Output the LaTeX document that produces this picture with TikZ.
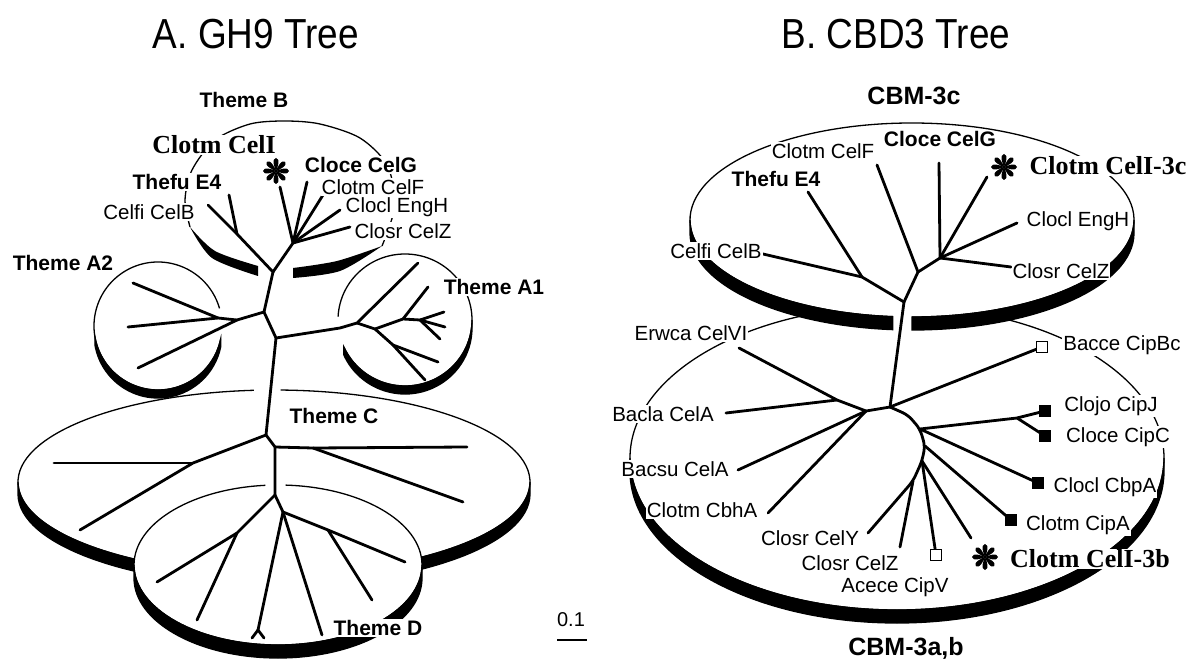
\documentclass[tikz,border=0pt]{standalone}
\usepackage{fontspec}
\setmainfont{Liberation Sans}
\newfontfamily\timesfont{Liberation Serif}

\begin{document}
\begin{tikzpicture}[x=1pt, y=-1pt,
    branch/.style={line width=2.8pt, line cap=round, line join=round},
    rim/.style={line width=1.3pt},
    taxon/.style={font=\fontsize{20.5}{22}\selectfont, fill=white, inner sep=1pt},
    taxonbf/.style={taxon, font=\fontsize{21}{22}\selectfont\bfseries},
    cbm/.style={font=\fontsize{25}{26}\selectfont\bfseries},
    focus/.style={taxon, font=\timesfont\fontsize{26}{28}\selectfont\bfseries},
    title/.style={font=\fontsize{42}{46}\selectfont, xscale=0.88, transform shape},
    sqfull/.style={fill=black, minimum size=12pt, inner sep=0pt},
    sqopen/.style={draw, fill=white, line width=1pt, minimum size=11pt, inner sep=0pt},
    aster/.pic={\foreach \a in {0,45,...,315}
      \fill[rotate=\a] (0,0) .. controls (1.5,-1.2) and (13,-4.8) .. (13,0) .. controls (13,4.8) and (1.5,1.2) .. (0,0);}]
  \useasboundingbox (0,0) rectangle (1191,660);

  %% titles
  \node[title] (titleA) at (256,34) {A. GH9 Tree};
  \node[title] (titleB) at (896,34) {B. CBD3 Tree};

  %%%%%%%%%%%%%%%% A. GH9 tree
  %% Theme B disc
  \draw[rim] plot[smooth] coordinates {(382,246) (395,205) (387,165) (360,138) (320,124) (285,121) (250,124) (215,140) (192,170) (185,200) (190,227)};
  \fill plot[smooth] coordinates {(293,268) (337,261) (382,246)} -- plot[smooth] coordinates {(382,246) (340,271) (293,278)} -- cycle;
  \fill plot[smooth] coordinates {(258,266) (215,251) (190,227)} -- plot[smooth] coordinates {(190,227) (212,258) (258,276)} -- cycle;
  %% Theme A2 disc
  \draw[rim] (158,326) ++(12:64 and 64) arc[start angle=12, end angle=344, x radius=64, y radius=64];
  \filldraw[rim] (158,326) ++(12:64 and 64) arc[start angle=12, end angle=170, x radius=64, y radius=64]
    -- ++(0,8) arc[start angle=170, end angle=12, x radius=64, y radius=64] -- cycle;
  %% Theme A1 disc
  \draw[rim] (405,320) ++(183:67 and 66) arc[start angle=183, end angle=516, x radius=67, y radius=66];
  \filldraw[rim] (405,320) ++(0:67 and 66) arc[start angle=0, end angle=156, x radius=67, y radius=66]
    -- ++(0,8) arc[start angle=156, end angle=0, x radius=67, y radius=66] -- cycle;
  %% Theme C disc
  \draw[rim] (274,482) ++(-88.5:256 and 92) arc[start angle=-88.5, end angle=265.5, x radius=256, y radius=92];
  \filldraw[rim] (274,482) ++(0:256 and 92) arc[start angle=0, end angle=180, x radius=256, y radius=92]
    -- ++(0,12) arc[start angle=180, end angle=0, x radius=256, y radius=92] -- cycle;
  %% Theme D disc (in front of C)
  \fill[white] (278,565) ellipse[x radius=144, y radius=80];
  \fill[white] (278,578) ellipse[x radius=144, y radius=80];
  \draw[rim] (278,565) ++(-87:144 and 80) arc[start angle=-87, end angle=265, x radius=144, y radius=80];
  \filldraw[rim] (278,565) ++(0:144 and 80) arc[start angle=0, end angle=180, x radius=144, y radius=80]
    -- ++(0,13) arc[start angle=180, end angle=0, x radius=144, y radius=80] -- cycle;

  %% tree nodes
  \coordinate (Bn) at (273,272);   \coordinate (BL1) at (237,234);
  \coordinate (celfiA) at (208,205); \coordinate (thefuA) at (229,195);
  \coordinate (B2) at (293,243);   \coordinate (celiA) at (280,187);
  \coordinate (celgA) at (307,182); \coordinate (celfA) at (323,195);
  \coordinate (enghA) at (340,210); \coordinate (celzA) at (350,227);
  \coordinate (S1) at (264,312);   \coordinate (S2) at (276,338);
  \coordinate (A2n) at (237,320);  \coordinate (a2i) at (218,318);
  \coordinate (a2e1) at (133,283); \coordinate (a2e2) at (128,327); \coordinate (a2e3) at (138,368);
  \coordinate (A1k) at (340,328);  \coordinate (A1n) at (357,323);
  \coordinate (a1e1) at (418,263); \coordinate (A1b) at (375,329);
  \coordinate (A1c) at (403,319);  \coordinate (a1e2) at (428,287);
  \coordinate (A1d) at (420,320);  \coordinate (a1e3) at (444,312);
  \coordinate (a1e4) at (445,327); \coordinate (a1e5) at (440,339);
  \coordinate (A1e) at (393,345);  \coordinate (a1e6) at (438,362); \coordinate (a1e7) at (425,380);
  \coordinate (Cn) at (266,435);   \coordinate (Cn2) at (275,447);
  \coordinate (Cl) at (193,463);   \coordinate (c1) at (80,530);  \coordinate (c2) at (54,463);
  \coordinate (Cr) at (313,448);   \coordinate (c3) at (467,447); \coordinate (c4) at (463,502);
  \coordinate (Dn) at (275,495);   \coordinate (Dl) at (237,533);
  \coordinate (d1) at (157,582);   \coordinate (d2) at (197,620);
  \coordinate (Dm) at (283,512);   \coordinate (Dy) at (258,630);
  \coordinate (dy1) at (252,638);  \coordinate (dy2) at (264,638);
  \coordinate (d3) at (322,635);   \coordinate (Dr) at (328,530);
  \coordinate (d4) at (405,562);   \coordinate (d5) at (372,600);

  %% branches
  \draw[branch] (celfiA) -- (BL1) -- (Bn) -- (S1) -- (S2) -- (Cn) -- (Cn2) -- (Dn);
  \draw[branch] (BL1) -- (thefuA);
  \draw[branch] (Bn) -- (B2) -- (celiA);
  \foreach \e in {celgA,celfA,enghA,celzA} \draw[branch] (B2) -- (\e);
  \draw[branch] (S1) -- (A2n) -- (a2i) -- (a2e2);
  \draw[branch] (a2i) -- (a2e1);
  \draw[branch] (A2n) -- (a2e3);
  \draw[branch] (S2) -- (A1k) -- (A1n) -- (a1e1);
  \draw[branch] (A1n) -- (A1b) -- (A1c) -- (A1d);
  \draw[branch] (A1c) -- (a1e2);
  \foreach \e in {a1e3,a1e4,a1e5} \draw[branch] (A1d) -- (\e);
  \draw[branch] (A1b) -- (A1e) -- (a1e7);
  \draw[branch] (A1e) -- (a1e6);
  \draw[branch] (Cn) -- (Cl) -- (c1);
  \draw[branch] (Cl) -- (c2);
  \draw[branch] (Cn2) -- (Cr) -- (c3);
  \draw[branch] (Cr) -- (c4);
  \draw[branch] (Dn) -- (Dl) -- (d1);
  \draw[branch] (Dl) -- (d2);
  \draw[branch] (Dn) -- (Dm) -- (Dy);
  \draw[branch] (dy1) -- (Dy) -- (dy2);
  \draw[branch] (Dm) -- (d3);
  \draw[branch] (Dm) -- (Dr) -- (d4);
  \draw[branch] (Dr) -- (d5);

  %% labels
  \node[taxonbf, fill=none] (themeB) at (244,100) {Theme B};
  \node[focus] (celiLab) at (214,145) {Clotm CelI};
  \pic (starA) at (276,171) {aster};
  \node[taxonbf] (thefuLab) at (177,182) {Thefu E4};
  \node[taxon] (celfiLab) at (149,212) {Celfi CelB};
  \node[taxonbf] (celgLab) at (361,165) {Cloce CelG};
  \node[taxon] (celfLab) at (373,187) {Clotm CelF};
  \node[taxon] (enghLab) at (397,207) {Clocl EngH};
  \node[taxon] (celzLab) at (403,231) {Closr CelZ};
  \node[taxonbf, fill=none] (themeA2) at (63,263) {Theme A2};
  \node[taxonbf] (themeA1) at (494,287) {Theme A1};
  \node[taxonbf] (themeC) at (334,416) {Theme C};
  \node[taxonbf] (themeD) at (378,628) {Theme D};

  %% scale bar
  \node[font=\fontsize{20}{22}\selectfont, inner sep=1pt] (scaleLab) at (571,620) {0.1};
  \coordinate (barL) at (557,640); \coordinate (barR) at (587,640);
  \draw[line width=2pt] (barL) -- (barR);

  %%%%%%%%%%%%%%%% B. CBD3 tree
  %% CBM-3a,b disc
  \draw[rim] (897,458) ellipse[x radius=267, y radius=152];
  \filldraw[rim] (897,458) ++(0:267 and 152) arc[start angle=0, end angle=180, x radius=267, y radius=152]
    -- ++(0,13) arc[start angle=180, end angle=0, x radius=267, y radius=152] -- cycle;
  %% CBM-3c disc (in front)
  \fill[white] (912,220) ellipse[x radius=222, y radius=97];
  \fill[white] (912,233) ellipse[x radius=222, y radius=97];
  \draw[rim] (912,220) ++(95:222 and 97) arc[start angle=95, end angle=450, x radius=222, y radius=97];
  \filldraw[rim] (912,220) ++(0:222 and 97) arc[start angle=0, end angle=90, x radius=222, y radius=97]
    -- ++(0,13) arc[start angle=90, end angle=0, x radius=222, y radius=97] -- cycle;
  \filldraw[rim] (912,220) ++(95:222 and 97) arc[start angle=95, end angle=180, x radius=222, y radius=97]
    -- ++(0,13) arc[start angle=180, end angle=95, x radius=222, y radius=97] -- cycle;

  %% tree nodes
  \coordinate (R1) at (904,302);   \coordinate (U1) at (862,277);
  \coordinate (celfiB) at (763,254); \coordinate (thefuB) at (808,192);
  \coordinate (U2) at (918,272);   \coordinate (celfB) at (877,165);
  \coordinate (U3) at (940,258);   \coordinate (celgB) at (939,163);
  \coordinate (celiB) at (987,177); \coordinate (enghB) at (1017,223); \coordinate (celzB) at (1011,267);
  \coordinate (H) at (890,407);    \coordinate (HL) at (866,411);  \coordinate (E1) at (837,400);
  \coordinate (erwcaB) at (739,348); \coordinate (baclaB) at (726,413);
  \coordinate (bacsuB) at (738,470); \coordinate (cbhaB) at (768,513);
  \coordinate (hA) at (908,415);   \coordinate (hB) at (920,429);
  \coordinate (hC) at (925,446);   \coordinate (hD) at (922,461);
  \coordinate (J) at (1017,418);   \coordinate (h5) at (913,481);
  \coordinate (celibB) at (971,538); \coordinate (celyB) at (868,533); \coordinate (celz2B) at (900,547);

  %% squares
  \node[sqopen] (bacceSq) at (1042,347) {};
  \node[sqfull] (clojoSq) at (1045,411) {};
  \node[sqfull] (cloceSq) at (1045,436) {};
  \node[sqfull] (cbpaSq) at (1038,483) {};
  \node[sqfull] (cipaSq) at (1011,520) {};
  \node[sqopen] (aceceSq) at (936,555) {};

  %% branches
  \draw[branch] (celfiB) -- (U1) -- (R1) -- (H);
  \draw[branch] (U1) -- (thefuB);
  \draw[branch] (R1) -- (U2) -- (celfB);
  \draw[branch] (U2) -- (U3) -- (celgB);
  \foreach \e in {celiB,enghB,celzB} \draw[branch] (U3) -- (\e);
  \draw[branch] (H) -- (HL) -- (E1) -- (erwcaB);
  \draw[branch] (E1) -- (baclaB);
  \draw[branch] (HL) -- (bacsuB);
  \draw[branch] (HL) -- (cbhaB);
  \draw[branch] (H) -- (bacceSq.center);
  \draw[branch, rounded corners=6pt] (H) -- (hA) -- (hB) -- (hC) -- (hD) -- (h5) -- (celyB);
  \draw[branch] (hB) -- (J) -- (clojoSq.center);
  \draw[branch] (J) -- (cloceSq.center);
  \draw[branch] (hB) -- (cbpaSq.center);
  \draw[branch] (hC) -- (cipaSq.center);
  \draw[branch] (hD) -- (celibB);
  \draw[branch] (hD) -- (aceceSq.center);
  \draw[branch] (h5) -- (celz2B);
  %% squares on top
  \node[sqopen] at (bacceSq) {};
  \node[sqopen] at (aceceSq) {};

  %% labels
  \node[cbm] (cbm3c) at (914,96) {CBM-3c};
  \node[taxon] (celfLabB) at (823,151) {Clotm CelF};
  \node[taxonbf, fill=none] (celgLabB) at (940,139) {Cloce CelG};
  \node[taxonbf] (thefuLabB) at (776,179) {Thefu E4};
  \pic (starB) at (1004,167) {aster};
  \node[focus] (celiLabB) at (1108,166) {Clotm CelI-3c};
  \node[taxon] (enghLabB) at (1078,221) {Clocl EngH};
  \node[taxon] (celzLabB) at (1061,271) {Closr CelZ};
  \node[taxon] (celfiLabB) at (716,251) {Celfi CelB};
  \node[taxon] (erwcaLab) at (691,333) {Erwca CelVI};
  \node[taxon] (bacceLab) at (1122,345) {Bacce CipBc};
  \node[taxon] (baclaLab) at (663,414) {Bacla CelA};
  \node[taxon] (clojoLab) at (1111,406) {Clojo CipJ};
  \node[taxon] (cloceLab) at (1118,437) {Cloce CipC};
  \node[taxon] (bacsuLab) at (675,469) {Bacsu CelA};
  \node[taxon] (cbpaLab) at (1105,487) {Clocl CbpA};
  \node[taxon] (cbhaLab) at (702,510) {Clotm CbhA};
  \node[taxon] (cipaLab) at (1078,525) {Clotm CipA};
  \node[taxon, fill=none] (celyLab) at (810,538) {Closr CelY};
  \node[taxon, fill=none] (celz2Lab) at (850,563) {Closr CelZ};
  \pic (starC) at (985,557) {aster};
  \node[focus] (celibLab) at (1090,559) {Clotm CelI-3b};
  \node[taxon, fill=none] (aceceLab) at (895,587) {Acece CipV};
  \node[cbm] (cbm3ab) at (906,648) {CBM-3a,b};
\end{tikzpicture}
\end{document}
